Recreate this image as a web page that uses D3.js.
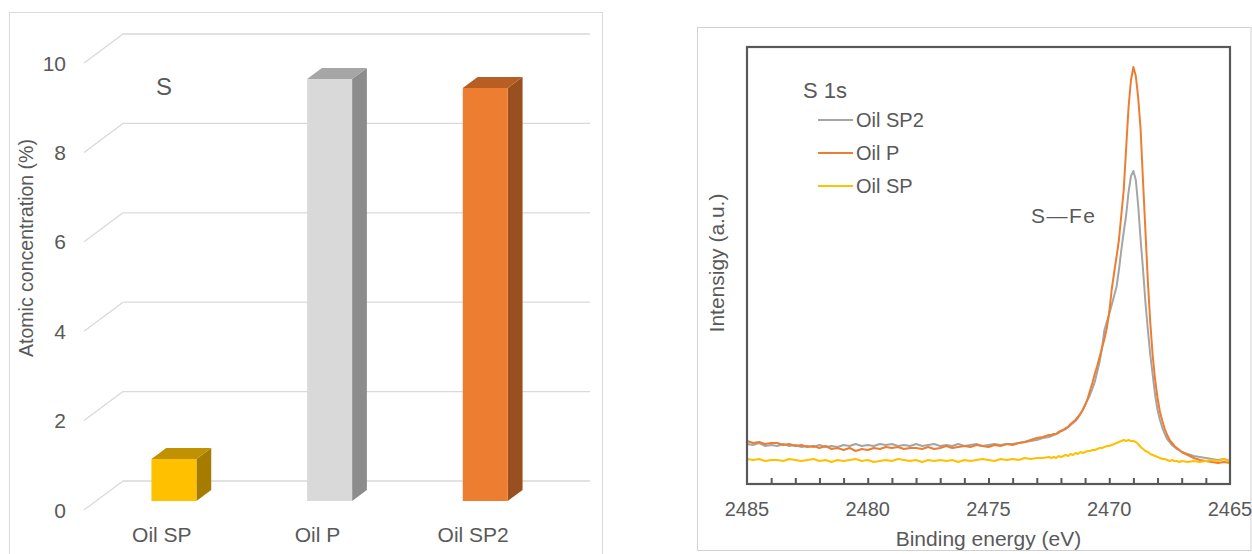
<!DOCTYPE html>
<html>
<head>
<meta charset="utf-8">
<script src="https://cdn.jsdelivr.net/npm/d3@7"></script>
<style>
  body { margin: 0; background: #fff; }
  text { font-family: "Liberation Sans", Arial, sans-serif; fill: #595959; }
</style>
</head>
<body>
<div id="container"></div>
<script>
/* CONSTANTS AND GLOBALS */
const width = 1252,
  height = 554;

/* DATA: left bar chart */
const categories = ["Oil SP", "Oil P", "Oil SP2"];
const concentration = [0.94, 9.44, 9.24];
const concTicks = [0, 2, 4, 6, 8, 10];

/* DATA: right XPS spectra (binding energy in eV, intensity in a.u.) */
const energy = [
  2485, 2484.75, 2484.5, 2484.25, 2484, 2483.75, 2483.5, 2483.25, 2483, 2482.75,
  2482.5, 2482.25, 2482, 2481.75, 2481.5, 2481.25, 2481, 2480.75, 2480.5, 2480.25,
  2480, 2479.75, 2479.5, 2479.25, 2479, 2478.75, 2478.5, 2478.25, 2478, 2477.75,
  2477.5, 2477.25, 2477, 2476.75, 2476.5, 2476.25, 2476, 2475.75, 2475.5, 2475.25,
  2475, 2474.75, 2474.5, 2474.25, 2474, 2473.75, 2473.5, 2473.25, 2473, 2472.75,
  2472.5,
  2472.4, 2472.3, 2472.2, 2472.1, 2472.0, 2471.9, 2471.8, 2471.7, 2471.6, 2471.5,
  2471.4, 2471.3, 2471.2, 2471.1, 2471.0, 2470.9, 2470.8, 2470.7, 2470.6, 2470.5,
  2470.4, 2470.3, 2470.2, 2470.1, 2470.0, 2469.9, 2469.8, 2469.7, 2469.6, 2469.5,
  2469.4, 2469.3, 2469.2, 2469.1, 2469.0, 2468.9, 2468.8, 2468.7, 2468.6, 2468.5,
  2468.4, 2468.3, 2468.2, 2468.1, 2468.0, 2467.9, 2467.8, 2467.7, 2467.6, 2467.5,
  2467.4, 2467.3, 2467.2, 2467.1, 2467.0,
  2466.75, 2466.5, 2466.25, 2466, 2465.75, 2465.5, 2465.25, 2465
];
const oilSP2 = [
  40, 39, 41, 38, 39, 38, 40, 38, 39, 37,
  38, 37, 39, 37, 38, 37, 39, 38, 40, 38,
  39, 38, 40, 39, 40, 38, 39, 38, 40, 38,
  39, 40, 38, 39, 38, 40, 38, 39, 40, 38,
  39, 40, 39, 40, 40, 41, 42, 43, 44, 46,
  47,
  48, 49, 50, 51, 53, 54, 55, 57, 59, 61,
  63, 66, 70, 74, 79, 84, 89, 95, 102, 112,
  122, 136, 154, 162, 170, 179, 188, 197, 214, 234,
  252, 269, 292, 308, 313, 304, 278, 244, 214, 181,
  154, 129, 109, 89, 74, 64, 56, 50, 45, 42,
  39, 37, 35, 34, 32,
  30, 28, 27, 26, 25, 24, 25, 23
];
const oilP = [
  43, 41, 42, 40, 41, 41, 39, 40, 38, 39,
  37, 38, 36, 38, 35, 36, 34, 36, 33, 35,
  34, 36, 35, 37, 36, 37, 35, 36, 36, 35,
  37, 35, 36, 38, 36, 37, 38, 37, 39, 38,
  37, 39, 38, 40, 39, 41, 42, 44, 46, 47,
  49,
  49, 50, 50, 52, 53, 54, 56, 57, 60, 62,
  64, 67, 70, 74, 79, 85, 93, 101, 110, 118,
  127, 136, 145, 156, 172, 194, 211, 227, 244, 269,
  294, 336, 377, 404, 417, 408, 386, 354, 302, 252,
  202, 161, 128, 104, 86, 72, 63, 55, 49, 44,
  41, 38, 36, 34, 32,
  29, 26, 24, 23, 22, 21, 22, 21
];
const oilSP = [
  25, 24, 25, 23, 24, 24, 23, 25, 24, 23,
  24, 25, 23, 24, 22, 24, 23, 24, 25, 23,
  24, 22, 23, 24, 23, 25, 24, 23, 24, 22,
  24, 23, 24, 23, 24, 22, 24, 23, 24, 25,
  24, 23, 25, 24, 25, 24, 26, 25, 26, 26,
  27,
  26, 27, 26, 28, 27, 28, 29, 28, 30, 29,
  31, 30, 32, 31, 32, 33, 33, 34, 34, 35,
  36, 36, 37, 38, 38, 39, 40, 41, 42, 43,
  44, 43, 44, 43, 43, 42, 40, 37, 35, 33,
  32, 30, 29, 28, 27, 26, 25, 25, 24, 23,
  24, 23, 23, 22, 23,
  22, 23, 22, 23, 24, 23, 25, 22
];
const spectra = [
  { name: "Oil SP2", values: oilSP2, color: "#a5a5a5" },
  { name: "Oil P", values: oilP, color: "#ed7d31" },
  { name: "Oil SP", values: oilSP, color: "#ffc000" }
];
const energyTicks = [2485, 2480, 2475, 2470, 2465];
const energyMinor = [2484, 2483, 2482, 2481, 2480, 2479, 2478, 2477, 2476, 2475,
  2474, 2473, 2472, 2471, 2470, 2469, 2468, 2467, 2466];

const barStyles = [
  { front: "#ffc000", top: "#c09100", side: "#a67c00" },
  { front: "#d9d9d9", top: "#a6a6a6", side: "#8c8c8c" },
  { front: "#ed7d31", top: "#b65e23", side: "#9a4f1e" }
];

const svg = d3.select("#container")
  .append("svg")
  .attr("width", width)
  .attr("height", height);

/* ---------- LEFT: 3D column chart ---------- */
svg.append("rect")
  .attr("x", 9.5).attr("y", 12.5)
  .attr("width", 593).attr("height", 570)
  .attr("fill", "none").attr("stroke", "#d9d9d9");

// depth of the floor (back wall -> front edge)
const depth = { dx: -39, dy: 29 };
const barFront = 20 / 29, barBack = 9 / 29;

const xBand = d3.scaleBand()
  .domain(categories)
  .range([123, 590])
  .paddingInner(0.711)
  .paddingOuter(0.3555);

const yConc = d3.scaleLinear()
  .domain([0, 10])
  .range([481, 34]);

// gridlines on back wall + side wall
const grid = svg.append("g");
grid.selectAll(".back")
  .data(concTicks)
  .join("line")
  .attr("x1", 123).attr("x2", 590)
  .attr("y1", d => yConc(d)).attr("y2", d => yConc(d))
  .attr("stroke", "#d9d9d9").attr("stroke-width", 1.3);
grid.selectAll(".side")
  .data(concTicks)
  .join("line")
  .attr("x1", 123).attr("x2", 123 + depth.dx)
  .attr("y1", d => yConc(d)).attr("y2", d => yConc(d) + depth.dy)
  .attr("stroke", "#d9d9d9").attr("stroke-width", 1.3);

svg.selectAll(".conc-tick")
  .data(concTicks)
  .join("text")
  .attr("x", 66)
  .attr("y", d => yConc(d) + depth.dy)
  .attr("dy", "0.36em")
  .attr("text-anchor", "end")
  .attr("font-size", "21px")
  .text(d => d);

// bars: front face, top and right side
const bars = svg.selectAll(".bar")
  .data(categories.map((c, i) => ({ cat: c, value: concentration[i], style: barStyles[i] })))
  .join("g");

bars.each(function(d) {
  const g = d3.select(this);
  const fx = depth.dx * barFront, fy = depth.dy * barFront;
  // offset from bar front to bar back
  const bx = depth.dx * (barBack - barFront), by = depth.dy * (barBack - barFront);
  const xl = xBand(d.cat) + fx, xr = xl + xBand.bandwidth();
  const yt = yConc(d.value) + fy, yb = yConc(0) + fy;
  g.append("polygon")
    .attr("points", [[xr, yt], [xr + bx, yt + by], [xr + bx, yb + by], [xr, yb]].join(" "))
    .attr("fill", d.style.side);
  g.append("polygon")
    .attr("points", [[xl, yt], [xr, yt], [xr + bx, yt + by], [xl + bx, yt + by]].join(" "))
    .attr("fill", d.style.top);
  g.append("rect")
    .attr("x", xl).attr("y", yt)
    .attr("width", xr - xl).attr("height", yb - yt)
    .attr("fill", d.style.front);
});

svg.selectAll(".cat-label")
  .data(categories)
  .join("text")
  .attr("x", d => xBand(d) + xBand.bandwidth() / 2 + depth.dx)
  .attr("y", 542)
  .attr("text-anchor", "middle")
  .attr("font-size", "21px")
  .text(d => d);

svg.append("text")
  .attr("transform", "translate(33,248) rotate(-90)")
  .attr("text-anchor", "middle")
  .attr("font-size", "19.5px")
  .text("Atomic concentration (%)");

svg.append("text")
  .attr("x", 164).attr("y", 95)
  .attr("text-anchor", "middle")
  .attr("font-size", "24px")
  .text("S");

/* ---------- RIGHT: XPS S 1s spectra ---------- */
svg.append("rect")
  .attr("x", 697.5).attr("y", 27.5)
  .attr("width", 553.5).attr("height", 523)
  .attr("fill", "none").attr("stroke", "#d0d0d0");

const plot = { left: 747, right: 1230, top: 47, bottom: 484 };

const xE = d3.scaleLinear()
  .domain([2485, 2465])
  .range([plot.left, plot.right]);

const yI = d3.scaleLinear()
  .domain([0, 437])
  .range([plot.bottom, plot.top]);

const line = d3.line()
  .x((d, i) => xE(energy[i]))
  .y(d => yI(d));

svg.selectAll(".spectrum")
  .data(spectra)
  .join("path")
  .attr("d", d => line(d.values))
  .attr("fill", "none")
  .attr("stroke", d => d.color)
  .attr("stroke-width", 2)
  .attr("stroke-linejoin", "round");

// frame
svg.append("rect")
  .attr("x", plot.left).attr("y", plot.top)
  .attr("width", plot.right - plot.left).attr("height", plot.bottom - plot.top)
  .attr("fill", "none").attr("stroke", "#595959").attr("stroke-width", 2.2);

// inward ticks
const xAxis = d3.axisBottom(xE)
  .tickValues(energyMinor)
  .tickSize(-6)
  .tickFormat("");
svg.append("g")
  .attr("transform", `translate(0,${plot.bottom})`)
  .call(xAxis)
  .call(g => g.select(".domain").remove())
  .call(g => g.selectAll("line").attr("stroke", "#595959").attr("stroke-width", 2));

svg.selectAll(".e-tick")
  .data(energyTicks)
  .join("text")
  .attr("x", d => xE(d))
  .attr("y", 516)
  .attr("text-anchor", "middle")
  .attr("font-size", "20px")
  .text(d => d);

svg.append("text")
  .attr("x", (plot.left + plot.right) / 2)
  .attr("y", 546)
  .attr("text-anchor", "middle")
  .attr("font-size", "21px")
  .text("Binding energy (eV)");

svg.append("text")
  .attr("transform", "translate(724,263) rotate(-90)")
  .attr("text-anchor", "middle")
  .attr("font-size", "21px")
  .text("Intensigy (a.u.)");

svg.append("text")
  .attr("x", 803).attr("y", 98)
  .attr("font-size", "22px")
  .text("S 1s");

// legend
const legend = svg.selectAll(".legend")
  .data(spectra)
  .join("g")
  .attr("transform", (d, i) => `translate(818,${120 + i * 33})`);
legend.append("line")
  .attr("x1", 0).attr("x2", 35)
  .attr("stroke", d => d.color).attr("stroke-width", 2);
legend.append("text")
  .attr("x", 38).attr("dy", "0.36em")
  .attr("font-size", "20px")
  .text(d => d.name);

svg.append("text")
  .attr("x", 1031).attr("y", 223)
  .attr("font-size", "21px")
  .attr("letter-spacing", "1.5px")
  .text("S—Fe");
</script>
</body>
</html>
